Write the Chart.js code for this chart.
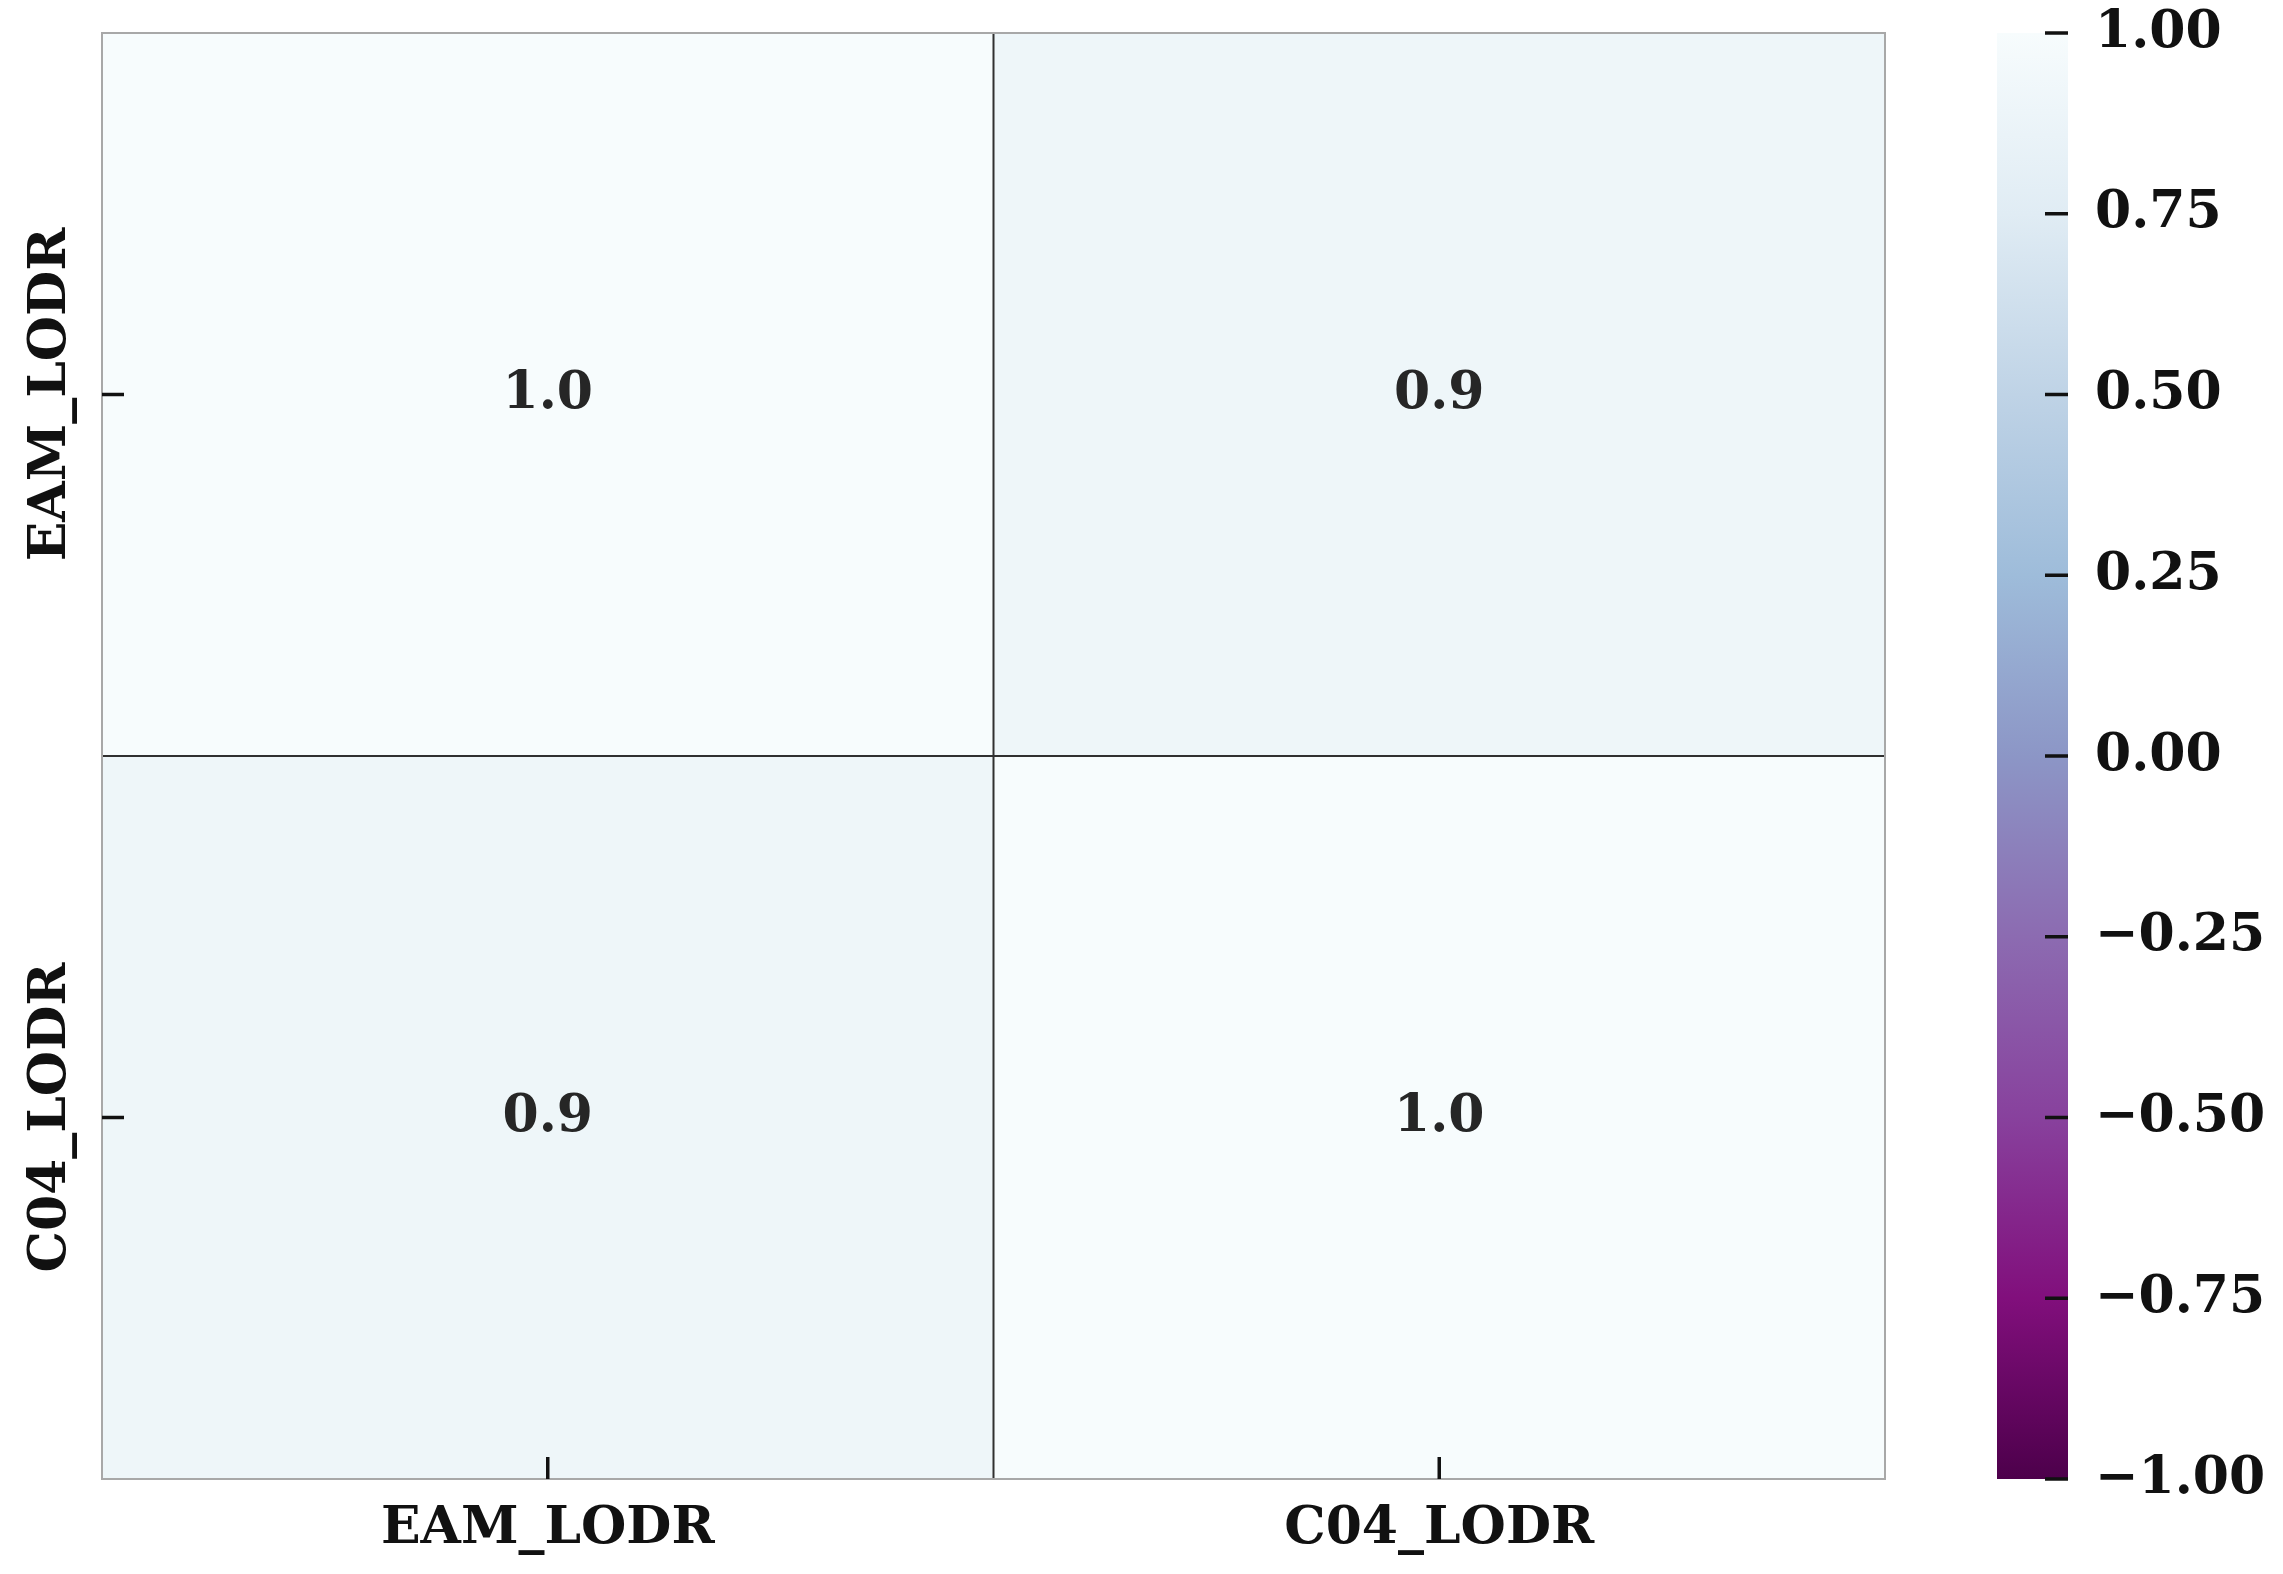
<!DOCTYPE html>
<html>
<head>
<meta charset="utf-8">
<script src="https://cdn.jsdelivr.net/npm/chart.js@4.4.1/dist/chart.umd.min.js"></script>
<style>
  html, body { margin: 0; padding: 0; background: #fff; }
  #heat { position: absolute; left: 0; top: 0; }
  #cbar { position: absolute; left: 1960px; top: 0; }
</style>
</head>
<body>
<canvas id="heat" width="1940" height="1574"></canvas>
<canvas id="cbar" width="323" height="1574"></canvas>
<script>
// Data
const colLabels = ['EAM_LODR', 'C04_LODR'];
const rowLabels = ['EAM_LODR', 'C04_LODR'];
const rowEAM = [1.0, 0.9];
const rowC04 = [0.9, 1.0];
const cbTicks = [-1, -0.75, -0.5, -0.25, 0, 0.25, 0.5, 0.75, 1];
const vMin = -1, vMax = 1;

// BuPu_r colour map (low -> high)
const cmap = ['#4d004b', '#810f7c', '#88419d', '#8c6bb1', '#8c96c6', '#9ebcda', '#bfd3e6', '#e0ecf4', '#f7fcfd'];
function hexRgb(h) { return [1, 3, 5].map(i => parseInt(h.slice(i, i + 2), 16)); }
function colorFor(v) {
    const t = Math.min(1, Math.max(0, (v - vMin) / (vMax - vMin))) * (cmap.length - 1);
    const i = Math.min(cmap.length - 2, Math.floor(t));
    const f = t - i;
    const a = hexRgb(cmap[i]), b = hexRgb(cmap[i + 1]);
    const c = a.map((x, k) => Math.round(x + (b[k] - x) * f));
    return 'rgb(' + c.join(',') + ')';
}

const FONT = 'DejaVu Serif';
const rows = [rowEAM, rowC04];

const heatPlugin = {
    id: 'heatDecor',
    afterDatasetsDraw(chart) {
        const { ctx, chartArea: a, scales: { x, y } } = chart;
        ctx.save();
        function line(x1, y1, x2, y2) { ctx.beginPath(); ctx.moveTo(x1, y1); ctx.lineTo(x2, y2); ctx.stroke(); }

        // cell separators
        ctx.strokeStyle = '#303030';
        ctx.lineWidth = 2;
        for (let i = 1; i < colLabels.length; i++) {
            const px = (x.getPixelForValue(i - 1) + x.getPixelForValue(i)) / 2;
            line(px, a.top, px, a.bottom);
        }
        for (let j = 1; j < rowLabels.length; j++) {
            const py = y.getPixelForValue(j - 0.5);
            line(a.left, py, a.right, py);
        }

        // outer frame
        ctx.strokeStyle = '#a8a8a8';
        ctx.lineWidth = 2;
        ctx.strokeRect(a.left, a.top, a.width, a.height);

        // inward ticks
        ctx.strokeStyle = '#111';
        ctx.lineWidth = 3.5;
        colLabels.forEach((_, i) => { const px = x.getPixelForValue(i); line(px, a.bottom, px, a.bottom - 22); });
        rowLabels.forEach((_, j) => { const py = y.getPixelForValue(j); line(a.left, py, a.left + 22, py); });

        // annotations
        ctx.fillStyle = '#262626';
        ctx.font = 'bold 52px ' + FONT;
        ctx.textAlign = 'center';
        ctx.textBaseline = 'middle';
        chart.data.datasets.forEach((ds, j) => {
            chart.getDatasetMeta(j).data.forEach((bar, i) => {
                const p = bar.getProps(['x', 'y', 'base'], true);
                ctx.fillText(rows[j][i].toFixed(1), p.x, (p.y + p.base) / 2);
            });
        });

        // rotated row labels
        ctx.fillStyle = '#111';
        rowLabels.forEach((lab, j) => {
            const py = y.getPixelForValue(j);
            ctx.save();
            ctx.translate(51, py);
            ctx.rotate(-Math.PI / 2);
            ctx.fillText(lab, 0, 0);
            ctx.restore();
        });
        ctx.restore();
    }
};

new Chart(document.getElementById('heat'), {
    type: 'bar',
    data: {
        labels: colLabels,
        datasets: rows.map((vals, j) => ({
            label: rowLabels[j],
            data: vals.map(() => [j - 0.5, j + 0.5]),
            backgroundColor: vals.map(colorFor),
            borderWidth: 0,
            barPercentage: 1,
            categoryPercentage: 1,
            grouped: false
        }))
    },
    options: {
        responsive: false,
        animation: false,
        layout: { padding: { top: 33, right: 55, left: 0, bottom: 0 } },
        plugins: { legend: { display: false }, tooltip: { enabled: false } },
        scales: {
            x: {
                grid: { display: false },
                border: { display: false },
                ticks: { font: { family: FONT, size: 52, weight: 'bold' }, color: '#111', padding: 11 },
                afterFit: s => { s.height = 95; }
            },
            y: {
                min: -0.5,
                max: 1.5,
                reverse: true,
                grid: { display: false },
                border: { display: false },
                ticks: { display: false },
                afterFit: s => { s.width = 102; }
            }
        }
    },
    plugins: [heatPlugin]
});

// Colour bar
const cbPlugin = {
    id: 'cbTicks',
    afterDatasetsDraw(chart) {
        const { ctx, chartArea: a, scales: { y } } = chart;
        ctx.save();
        ctx.strokeStyle = '#111';
        ctx.lineWidth = 3.5;
        cbTicks.forEach(v => {
            const py = y.getPixelForValue(v);
            ctx.beginPath(); ctx.moveTo(a.right, py); ctx.lineTo(a.right - 23, py); ctx.stroke();
        });
        ctx.restore();
    }
};

new Chart(document.getElementById('cbar'), {
    type: 'bar',
    data: {
        labels: [''],
        datasets: [{
            data: [[vMin, vMax]],
            backgroundColor: c => {
                const chart = c.chart;
                const ys = chart.scales.y;
                const y0 = ys ? ys.getPixelForValue(vMin) : NaN;
                const y1 = ys ? ys.getPixelForValue(vMax) : NaN;
                if (!isFinite(y0) || !isFinite(y1) || y0 === y1) return cmap[4];
                const g = chart.ctx.createLinearGradient(0, y0, 0, y1);
                cmap.forEach((col, i) => g.addColorStop(i / (cmap.length - 1), col));
                return g;
            },
            borderWidth: 0,
            barPercentage: 1,
            categoryPercentage: 1
        }]
    },
    options: {
        responsive: false,
        animation: false,
        layout: { padding: { top: 33, bottom: 95, left: 37, right: 0 } },
        plugins: { legend: { display: false }, tooltip: { enabled: false } },
        scales: {
            x: { display: false },
            y: {
                position: 'right',
                min: vMin,
                max: vMax,
                grid: { display: false, drawTicks: false },
                border: { display: false },
                afterBuildTicks: s => { s.ticks = cbTicks.map(v => ({ value: v })); },
                ticks: {
                    autoSkip: false,
                    padding: 27,
                    color: '#111',
                    font: { family: FONT, size: 52, weight: 'bold' },
                    callback: v => (v < 0 ? '\u2212' : '') + Math.abs(v).toFixed(2)
                },
                afterFit: s => { s.width = 215; s.paddingTop = 0; s.paddingBottom = 0; }
            }
        }
    },
    plugins: [cbPlugin]
});
</script>
</body>
</html>
